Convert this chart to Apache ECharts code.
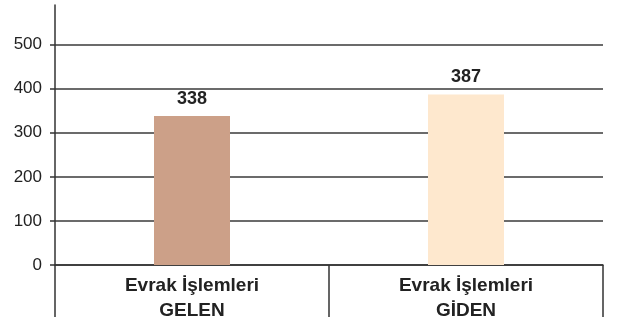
<!DOCTYPE html>
<html>
<head>
<meta charset="utf-8">
<script src="https://cdn.jsdelivr.net/npm/echarts@6/dist/echarts.min.js"></script>
<style>
  html, body { margin: 0; padding: 0; background: #ffffff; }
  #chart { width: 621px; height: 331px; }
</style>
</head>
<body>
<div id="chart"></div>
<script>
// Document counts, incoming vs outgoing
const categories = ['Evrak İşlemleri\nGELEN', 'Evrak İşlemleri\nGİDEN'];
const values = [338, 387];
const barColors = ['#CCA088', '#FEE8CE'];
const yTicks = [0, 100, 200, 300, 400, 500];

const chart = echarts.init(document.getElementById('chart'), null, { renderer: 'canvas' });

const sans = '"Liberation Sans", Arial, sans-serif';

chart.setOption({
  animation: false,
  backgroundColor: '#ffffff',
  grid: { left: 55, right: 18, top: 5, bottom: 66, containLabel: false },
  xAxis: {
    type: 'category',
    data: categories,
    boundaryGap: true,
    axisLine: { show: true, lineStyle: { color: '#333', width: 1.5 } },
    axisTick: {
      show: true,
      alignWithLabel: false,
      length: 52,
      inside: false,
      lineStyle: { color: '#333', width: 1.5 }
    },
    axisLabel: {
      margin: 8,
      color: '#222',
      fontFamily: sans,
      fontWeight: 'bold',
      fontSize: 19,
      lineHeight: 25,
      align: 'center'
    },
    splitLine: { show: false }
  },
  yAxis: {
    type: 'value',
    min: 0,
    max: 590,
    interval: 100,
    axisLine: { show: true, lineStyle: { color: '#333', width: 1.5 } },
    axisTick: {
      show: true,
      length: 5,
      customValues: yTicks,
      lineStyle: { color: '#333', width: 1.5 }
    },
    axisLabel: {
      customValues: yTicks,
      margin: 13,
      color: '#222',
      fontFamily: sans,
      fontSize: 17
    },
    splitLine: { show: true, lineStyle: { color: '#3a3a3a', width: 1.5 } }
  },
  series: [{
    type: 'bar',
    barWidth: 76,
    data: values.map((v, i) => ({ value: v, itemStyle: { color: barColors[i] } })),
    label: {
      show: true,
      position: 'top',
      distance: 8,
      color: '#222',
      fontFamily: sans,
      fontWeight: 'bold',
      fontSize: 18
    }
  }]
});
</script>
</body>
</html>
